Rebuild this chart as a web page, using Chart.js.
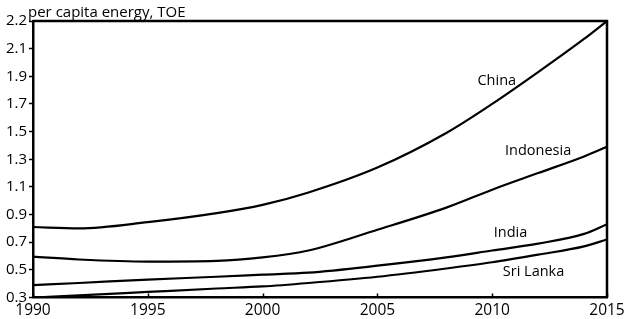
<!DOCTYPE html>
<html>
<head>
<meta charset="utf-8">
<script src="https://cdn.jsdelivr.net/npm/chart.js@4/dist/chart.umd.min.js"></script>
<style>
  html, body { margin: 0; padding: 0; background: #fff; }
  #wrap { width: 624px; height: 319px; }
</style>
</head>
<body>
<div id="wrap"><canvas id="c" width="624" height="319"></canvas></div>
<script>
const years     = [1990, 1992, 1995, 1998, 2000, 2002, 2005, 2008, 2010, 2012, 2014, 2015];
const china     = [0.81, 0.80, 0.845, 0.91, 0.97, 1.06, 1.24, 1.49, 1.70, 1.93, 2.17, 2.30];
const indonesia = [0.595, 0.575, 0.56, 0.565, 0.59, 0.64, 0.79, 0.95, 1.08, 1.20, 1.32, 1.39];
const india     = [0.39, 0.405, 0.43, 0.45, 0.465, 0.48, 0.53, 0.59, 0.64, 0.69, 0.76, 0.83];
const sriLanka  = [0.30, 0.315, 0.34, 0.365, 0.38, 0.405, 0.45, 0.51, 0.555, 0.61, 0.67, 0.72];
const seriesNames = ['China', 'Indonesia', 'India', 'Sri Lanka'];
const xTicks = [1990, 1995, 2000, 2005, 2010, 2015];
const yTickValues = [0.3, 0.5, 0.7, 0.9, 1.1, 1.3, 1.5, 1.7, 1.9, 2.1, 2.3];
const yTickLabels = ['0.3', '0.5', '0.7', '0.9', '1.1', '1.3', '1.5', '1.7', '1.9', '2.1', '2.2'];
const labelYears  = [2010.2, 2012.0, 2010.8, 2011.8];
const labelValues = [1.87, 1.36, 0.77, 0.485];
const yTitle = 'per capita energy, TOE';

const FONT = '"Open Sans", "DejaVu Sans", sans-serif';
const allSeries = [china, indonesia, india, sriLanka];

const datasets = allSeries.map((vals, i) => ({
  label: seriesNames[i],
  data: years.map((y, k) => ({ x: y, y: vals[k] })),
  borderColor: '#000',
  borderWidth: 2.2,
  pointRadius: 0,
  fill: false,
  cubicInterpolationMode: 'monotone'
}));

const decor = {
  id: 'decor',
  afterDraw(chart) {
    const ctx = chart.ctx;
    const a = chart.chartArea;
    const xs = chart.scales.x, ys = chart.scales.y;
    ctx.save();
    ctx.strokeStyle = '#000';
    ctx.lineWidth = 2.5;
    ctx.beginPath();
    ctx.moveTo(a.left, a.top);
    ctx.lineTo(a.right, a.top);
    ctx.lineTo(a.right, a.bottom);
    ctx.stroke();
    ctx.lineWidth = 1.5;
    xTicks.forEach(v => {
      const px = Math.round(xs.getPixelForValue(v)) + 0.5;
      ctx.beginPath();
      ctx.moveTo(px, a.bottom);
      ctx.lineTo(px, a.bottom - 4);
      ctx.stroke();
    });
    ctx.fillStyle = '#000';
    ctx.font = '14.5px ' + FONT;
    ctx.textAlign = 'center';
    ctx.textBaseline = 'middle';
    seriesNames.forEach((n, i) => {
      ctx.fillText(n, xs.getPixelForValue(labelYears[i]), ys.getPixelForValue(labelValues[i]));
    });
    ctx.textAlign = 'left';
    ctx.textBaseline = 'alphabetic';
    ctx.font = '15px ' + FONT;
    ctx.fillText(yTitle, 28, 17);
    ctx.restore();
  }
};

new Chart(document.getElementById('c'), {
  type: 'line',
  data: { datasets },
  options: {
    responsive: false,
    animation: false,
    layout: { padding: { top: 21, right: 17, left: 0, bottom: 0 } },
    plugins: { legend: { display: false }, tooltip: { enabled: false } },
    scales: {
      x: {
        type: 'linear',
        min: 1990, max: 2015,
        afterBuildTicks: s => { s.ticks = xTicks.map(v => ({ value: v })); },
        afterFit: s => { s.height = 21.5; s.paddingLeft = 0; s.paddingRight = 0; },
        border: { display: true, color: '#000', width: 2.5 },
        grid: { display: true, drawOnChartArea: false, drawTicks: false },
        ticks: {
          color: '#000', padding: 4, maxRotation: 0,
          font: { family: FONT, size: 15.5 },
          callback: v => String(v)
        }
      },
      y: {
        type: 'linear',
        min: 0.3, max: 2.3,
        afterBuildTicks: s => { s.ticks = yTickValues.map(v => ({ value: v })); },
        afterFit: s => { s.width = 33; s.paddingTop = 0; s.paddingBottom = 0; },
        border: { display: true, color: '#000', width: 2.5 },
        grid: { display: true, drawOnChartArea: false, drawTicks: true, tickLength: 4, color: '#000', tickWidth: 1.5 },
        ticks: {
          color: '#000', padding: 2,
          font: { family: FONT, size: 15 },
          callback: (v, i) => yTickLabels[i]
        }
      }
    }
  },
  plugins: [decor]
});
</script>
</body>
</html>
